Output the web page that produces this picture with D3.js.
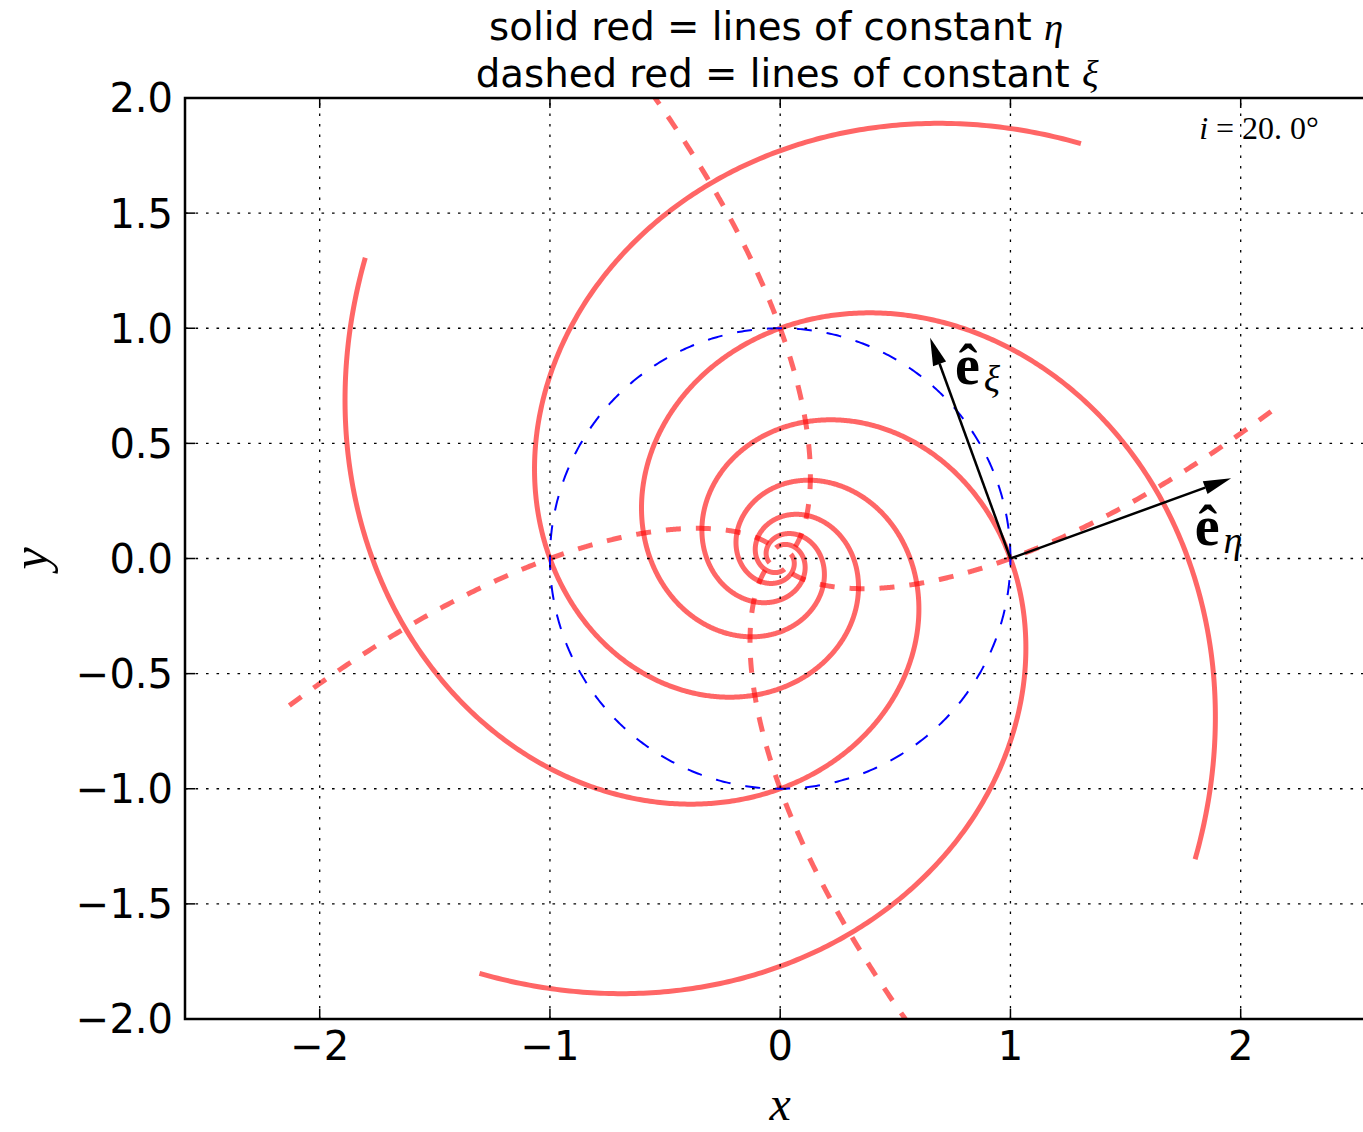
<!DOCTYPE html>
<html>
<head>
<meta charset="utf-8">
<script src="https://cdn.jsdelivr.net/npm/d3@7"></script>
<style>
  body { margin: 0; background: #ffffff; }
  svg { display: block; }
</style>
</head>
<body>
<svg id="chart" width="1363" height="1132"></svg>
<script>
// Log-spiral coordinate system with pitch angle i.
const pitchAngleDeg = 20;
// Azimuth (degrees) at which each coordinate line crosses the unit circle.
const etaLinePhases = [0, 90, 180, 270];
const xiLinePhases = [0, 90, 180, 270];
// Range of ln(r) covered by every coordinate line.
const logRadiusRange = [0.8, -3.0];
// Reference circle r = 1.
const referenceRadius = 1;
// Basis vectors drawn at this point (x, y).
const basisOrigin = [1, 0];
const basisLength = 1.02;
const basisNames = ["ξ", "η"];
const basisLabelPos = [[0.759, 0.758], [1.80, 0.059]];
// Axes.
const xDomain = [-2.585, 2.585];
const yDomain = [-2, 2];
const xTickValues = [-2, -1, 0, 1, 2];
const yTickValues = [-2, -1.5, -1, -0.5, 0, 0.5, 1, 1.5, 2];
const titleLines = [["solid red = lines of constant ", "η"], ["dashed red = lines of constant ", "ξ"]];
const annotationText = ["i", " = 20. 0°"];

(function draw() {
  const svg = d3.select("#chart");
  const W = 1363, H = 1132;
  svg.append("rect").attr("width", W).attr("height", H).attr("fill", "#fff");

  const plotTop = 98, plotH = 921, plotLeft = 185;
  const unit = plotH / (yDomain[1] - yDomain[0]);
  const plotW = unit * (xDomain[1] - xDomain[0]);
  const x = d3.scaleLinear().domain(xDomain).range([plotLeft, plotLeft + plotW]);
  const y = d3.scaleLinear().domain(yDomain).range([plotTop + plotH, plotTop]);

  const sans = "'DejaVu Sans', sans-serif";
  const serif = "'Liberation Serif', 'DejaVu Serif', serif";

  svg.append("defs").append("clipPath").attr("id", "plotClip")
    .append("rect").attr("x", plotLeft).attr("y", plotTop).attr("width", plotW).attr("height", plotH);

  const tanI = Math.tan(pitchAngleDeg * Math.PI / 180);
  const rad = d => d * Math.PI / 180;

  // constant-η line: ln r = -(θ - φ0) tan i  ->  θ = φ0 - u / tan i
  function etaLine(phaseDeg) {
    const n = 1200, pts = [];
    for (let k = 0; k <= n; k++) {
      const u = logRadiusRange[0] + (logRadiusRange[1] - logRadiusRange[0]) * k / n;
      const th = rad(phaseDeg) - u / tanI;
      const r = Math.exp(u);
      pts.push([r * Math.cos(th), r * Math.sin(th)]);
    }
    return pts;
  }
  // constant-ξ line: ln r = (θ - φ0) / tan i  ->  θ = φ0 + u tan i
  function xiLine(phaseDeg) {
    const n = 600, pts = [];
    for (let k = 0; k <= n; k++) {
      const u = logRadiusRange[0] + (logRadiusRange[1] - logRadiusRange[0]) * k / n;
      const th = rad(phaseDeg) + u * tanI;
      const r = Math.exp(u);
      pts.push([r * Math.cos(th), r * Math.sin(th)]);
    }
    return pts;
  }

  const line = d3.line().x(d => x(d[0])).y(d => y(d[1]));
  const plot = svg.append("g").attr("clip-path", "url(#plotClip)");

  plot.selectAll("path.eta").data(etaLinePhases.map(etaLine)).join("path")
    .attr("class", "eta").attr("d", line)
    .attr("fill", "none").attr("stroke", "#ff0000").attr("stroke-opacity", 0.6)
    .attr("stroke-width", 5);

  plot.selectAll("path.xi").data(xiLinePhases.map(xiLine)).join("path")
    .attr("class", "xi").attr("d", line)
    .attr("fill", "none").attr("stroke", "#ff0000").attr("stroke-opacity", 0.6)
    .attr("stroke-width", 5).attr("stroke-dasharray", "15,15");

  // unit circle, counter-clockwise from θ = 0
  const circlePts = d3.range(0, 721).map(k => {
    const t = 2 * Math.PI * k / 720;
    return [referenceRadius * Math.cos(t), referenceRadius * Math.sin(t)];
  });
  plot.append("path").attr("d", line(circlePts))
    .attr("fill", "none").attr("stroke", "#0000ff").attr("stroke-width", 2)
    .attr("stroke-dasharray", "15,15");

  // dotted grid
  const grid = svg.append("g").attr("stroke", "#000").attr("stroke-width", 1.3)
    .attr("stroke-dasharray", "2.6,7.9").attr("fill", "none");
  xTickValues.forEach(v => grid.append("line")
    .attr("x1", x(v)).attr("x2", x(v)).attr("y1", plotTop + plotH).attr("y2", plotTop));
  yTickValues.forEach(v => grid.append("line")
    .attr("x1", plotLeft).attr("x2", plotLeft + plotW).attr("y1", y(v)).attr("y2", y(v)));

  // basis vectors
  const angles = [rad(90 + pitchAngleDeg), rad(pitchAngleDeg)];
  const arrows = svg.append("g");
  const headLen = 0.12 * unit, headHalf = 0.03 * unit;
  angles.forEach(a => {
    const ox = x(basisOrigin[0]), oy = y(basisOrigin[1]);
    const tx = x(basisOrigin[0] + basisLength * Math.cos(a));
    const ty = y(basisOrigin[1] + basisLength * Math.sin(a));
    const dx = tx - ox, dy = ty - oy, L = Math.hypot(dx, dy);
    const ux = dx / L, uy = dy / L;
    const bx = tx - ux * headLen, by = ty - uy * headLen;
    arrows.append("line").attr("x1", ox).attr("y1", oy).attr("x2", bx).attr("y2", by)
      .attr("stroke", "#000").attr("stroke-width", 2.5);
    arrows.append("path")
      .attr("d", `M${tx},${ty}L${bx - uy * headHalf},${by + ux * headHalf}L${bx + uy * headHalf},${by - ux * headHalf}Z`)
      .attr("fill", "#000");
  });

  // basis labels
  basisNames.forEach((nm, i) => {
    const t = svg.append("text").attr("x", x(basisLabelPos[i][0])).attr("y", y(basisLabelPos[i][1]))
      .attr("font-family", serif).attr("fill", "#000");
    t.append("tspan").attr("font-size", 56).attr("font-weight", "bold").text("ê");
    t.append("tspan").attr("font-size", 38).attr("font-style", "italic").attr("dx", 4).attr("dy", 8).text(nm);
  });

  // frame
  svg.append("rect").attr("x", plotLeft).attr("y", plotTop).attr("width", plotW).attr("height", plotH)
    .attr("fill", "none").attr("stroke", "#000").attr("stroke-width", 2.5);

  // inward ticks on all sides
  const ticks = svg.append("g").attr("stroke", "#000").attr("stroke-width", 1.5);
  const tl = 10;
  xTickValues.forEach(v => {
    ticks.append("line").attr("x1", x(v)).attr("x2", x(v)).attr("y1", plotTop + plotH).attr("y2", plotTop + plotH - tl);
    ticks.append("line").attr("x1", x(v)).attr("x2", x(v)).attr("y1", plotTop).attr("y2", plotTop + tl);
  });
  yTickValues.forEach(v => {
    ticks.append("line").attr("x1", plotLeft).attr("x2", plotLeft + tl).attr("y1", y(v)).attr("y2", y(v));
    ticks.append("line").attr("x1", plotLeft + plotW).attr("x2", plotLeft + plotW - tl).attr("y1", y(v)).attr("y2", y(v));
  });

  // tick labels
  const fmtMinus = s => s.replace("-", "\u2212");
  svg.append("g").selectAll("text").data(xTickValues).join("text")
    .attr("x", d => x(d)).attr("y", plotTop + plotH + 41)
    .attr("text-anchor", "middle").attr("font-family", sans).attr("font-size", 40)
    .text(d => fmtMinus(d3.format("d")(d)));
  svg.append("g").selectAll("text").data(yTickValues).join("text")
    .attr("x", plotLeft - 12).attr("y", d => y(d)).attr("dy", "0.36em")
    .attr("text-anchor", "end").attr("font-family", sans).attr("font-size", 40)
    .text(d => fmtMinus(d3.format(".1f")(d)));

  // axis labels
  svg.append("text").attr("x", x(0)).attr("y", 1120).attr("text-anchor", "middle")
    .attr("font-family", serif).attr("font-style", "italic").attr("font-size", 48).text("x");
  svg.append("text").attr("transform", `translate(47,${plotTop + plotH / 2}) rotate(-90)`)
    .attr("text-anchor", "middle").attr("font-family", serif).attr("font-style", "italic")
    .attr("font-size", 50).text("y");

  // title (second line sits slightly right of the first)
  const titleX = [plotLeft + plotW / 2 - 4, plotLeft + plotW / 2 + 7];
  titleLines.forEach((ln, i) => {
    const t = svg.append("text").attr("x", titleX[i]).attr("y", 40 + i * 47)
      .attr("text-anchor", "middle").attr("font-family", sans).attr("font-size", 38.7).attr("fill", "#000");
    t.append("tspan").text(ln[0]);
    t.append("tspan").attr("font-family", serif).attr("font-style", "italic").text(ln[1]);
  });

  // pitch-angle annotation
  const ann = svg.append("text").attr("x", plotLeft + 0.95 * plotW + 3).attr("y", 139)
    .attr("text-anchor", "end").attr("font-family", serif).attr("font-size", 32).attr("fill", "#000");
  ann.append("tspan").attr("font-style", "italic").text(annotationText[0]);
  ann.append("tspan").text(annotationText[1]);
})();
</script>
</body>
</html>
